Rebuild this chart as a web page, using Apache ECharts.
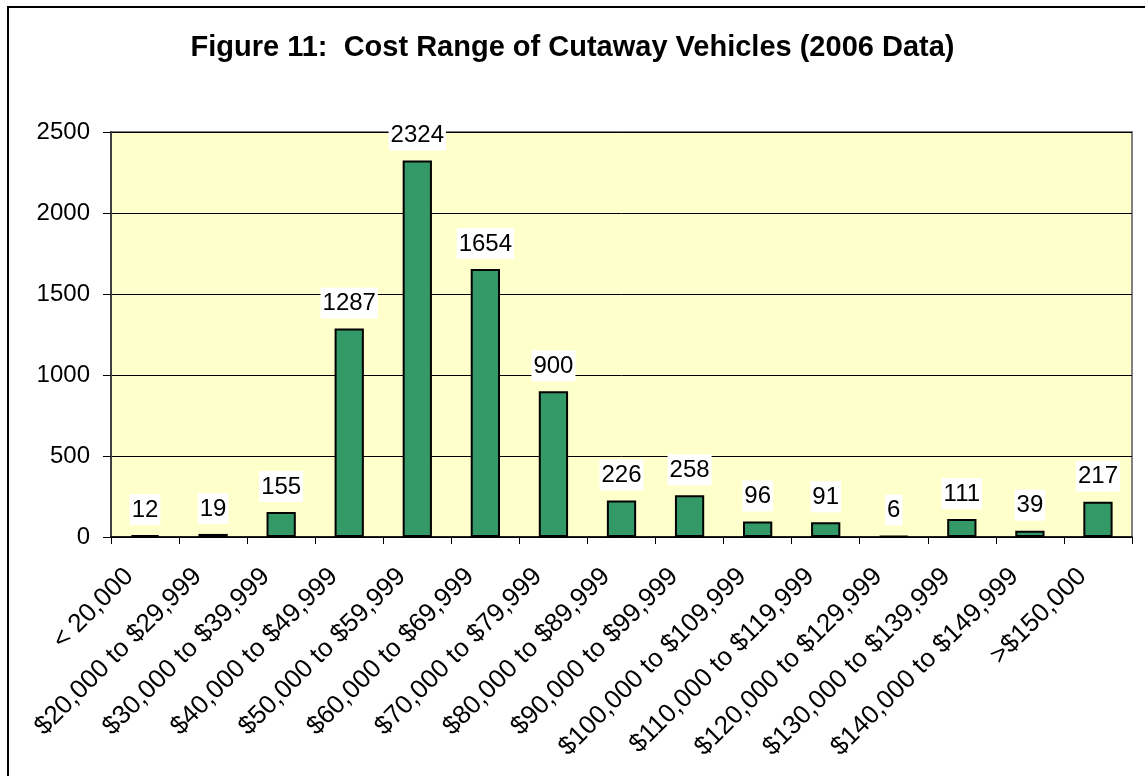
<!DOCTYPE html>
<html>
<head>
<meta charset="utf-8">
<script src="https://cdn.jsdelivr.net/npm/echarts@6/dist/echarts.min.js"></script>
<style>
  html, body { margin: 0; padding: 0; background: #fff; }
  #chart { width: 1145px; height: 776px; }
</style>
</head>
<body>
<div id="chart"></div>
<script>
const titleText = 'Figure 11:  Cost Range of Cutaway Vehicles (2006 Data)';

const categories = [
  '< 20,000',
  '$20,000 to $29,999',
  '$30,000 to $39,999',
  '$40,000 to $49,999',
  '$50,000 to $59,999',
  '$60,000 to $69,999',
  '$70,000 to $79,999',
  '$80,000 to $89,999',
  '$90,000 to $99,999',
  '$100,000 to $109,999',
  '$110,000 to $119,999',
  '$120,000 to $129,999',
  '$130,000 to $139,999',
  '$140,000 to $149,999',
  '>$150,000'
];

const vehicleCounts = [12, 19, 155, 1287, 2324, 1654, 900, 226, 258, 96, 91, 6, 111, 39, 217];

const yMin = 0;
const yMax = 2500;
const yStep = 500;

const FONT = '"Liberation Sans", Arial, sans-serif';

const chart = echarts.init(document.getElementById('chart'), null, { renderer: 'canvas' });

chart.setOption({
  animation: false,
  backgroundColor: '#fff',
  textStyle: { fontFamily: FONT },
  title: {
    text: titleText,
    left: 'center',
    top: 28,
    textStyle: { fontFamily: FONT, fontSize: 29, fontWeight: 'bold', color: '#000' }
  },
  graphic: [{
    type: 'rect',
    shape: { x: 8, y: 7, width: 1160, height: 800 },
    style: { fill: 'none', stroke: '#000', lineWidth: 2 },
    silent: true
  }],
  grid: {
    left: 111,
    top: 132,
    right: 13,
    bottom: 239,
    show: true,
    backgroundColor: '#FFFFCC',
    borderColor: '#808080',
    borderWidth: 2
  },
  xAxis: {
    type: 'category',
    data: categories,
    axisLine: { lineStyle: { color: '#000', width: 1.5 } },
    axisTick: { show: true, alignWithLabel: false, length: 7, lineStyle: { color: '#000' } },
    axisLabel: {
      rotate: 45,
      interval: 0,
      margin: 20,
      padding: [0, 22, 0, 0],
      color: '#000',
      fontFamily: FONT,
      fontSize: 26
    }
  },
  yAxis: {
    type: 'value',
    min: yMin,
    max: yMax,
    interval: yStep,
    axisLine: { show: true, lineStyle: { color: '#404040', width: 2 } },
    axisTick: { show: true, length: 8, lineStyle: { color: '#000' } },
    axisLabel: {
      color: '#000',
      fontFamily: FONT,
      fontSize: 24,
      margin: 21,
      formatter: v => String(v)
    },
    splitLine: { show: true, lineStyle: { color: '#000', width: 1 } }
  },
  series: [{
    type: 'bar',
    data: vehicleCounts,
    barWidth: '43%',
    itemStyle: { color: '#339966', borderColor: '#000', borderWidth: 2 },
    label: {
      show: true,
      position: 'top',
      distance: 10,
      color: '#000',
      fontFamily: FONT,
      fontSize: 24,
      backgroundColor: '#fff',
      padding: [4, 2, 3, 2]
    }
  }]
});
</script>
</body>
</html>
